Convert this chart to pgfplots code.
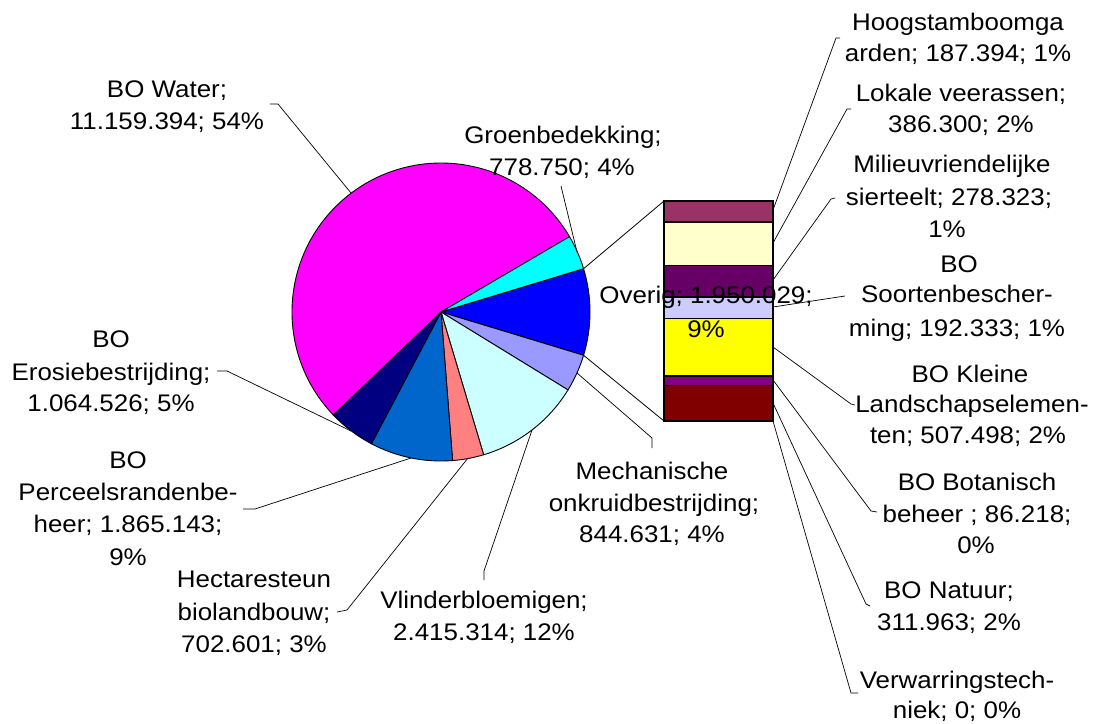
\documentclass[border=0pt]{standalone}
\usepackage{pgfplots}
\pgfplotsset{compat=1.18}
\usepackage{pgfplotstable}
\usepackage{fontspec}
\setmainfont{Liberation Sans}[FakeStretch=1.08]
\newcommand\lf{\fontsize{24bp}{31.5bp}\selectfont}

\definecolor{cWater}{HTML}{FF00FF}
\definecolor{cGroen}{HTML}{00FFFF}
\definecolor{cOverig}{HTML}{0000FF}
\definecolor{cMech}{HTML}{9999FF}
\definecolor{cVlin}{HTML}{CCFFFF}
\definecolor{cHect}{HTML}{FF8080}
\definecolor{cPerc}{HTML}{0066CC}
\definecolor{cEros}{HTML}{000080}
\definecolor{cHoog}{HTML}{993366}
\definecolor{cLok}{HTML}{FFFFCC}
\definecolor{cMil}{HTML}{660066}
\definecolor{cSoort}{HTML}{CCCCFF}
\definecolor{cKlein}{HTML}{FFFF00}
\definecolor{cBot}{HTML}{800080}
\definecolor{cNat}{HTML}{800000}
\definecolor{cVer}{HTML}{000000}

% pie slices, clockwise starting with "Overig" (which faces the bar)
\pgfplotstableread{
label value col
Overig 1950029 cOverig
Mechanische 844631 cMech
Vlinderbloemigen 2415314 cVlin
Hectaresteun 702601 cHect
Perceelsrandenbeheer 1865143 cPerc
Erosiebestrijding 1064526 cEros
Water 11159394 cWater
Groenbedekking 778750 cGroen
}\piedata

\newcommand\computepie{%
  \gdef\pietotal{0}%
  \pgfplotsforeachungrouped \i in {0,...,7}{%
    \pgfplotstablegetelem{\i}{value}\of\piedata
    \xdef\pietotal{\fpeval{\pietotal+\pgfplotsretval}}}%
  \pgfplotstablegetelem{0}{value}\of\piedata
  \xdef\pieang{\fpeval{round(180*\pgfplotsretval/\pietotal,4)}}%
  \pgfplotsforeachungrouped \i in {0,...,7}{%
    \pgfplotstablegetelem{\i}{value}\of\piedata
    \expandafter\xdef\csname pieS\i\endcsname{\pieang}%
    \xdef\pieang{\fpeval{round(\pieang-360*\pgfplotsretval/\pietotal,4)}}%
    \expandafter\xdef\csname pieE\i\endcsname{\pieang}%
    \expandafter\xdef\csname pieX\i\endcsname{\fpeval{round(441+149*cosd(\csname pieS\i\endcsname),3)}}%
    \expandafter\xdef\csname pieY\i\endcsname{\fpeval{round(312-149*sind(\csname pieS\i\endcsname),3)}}%
    \pgfplotstablegetelem{\i}{col}\of\piedata
    \expandafter\xdef\csname pieC\i\endcsname{\pgfplotsretval}%
  }%
}

\begin{document}
\computepie
\begin{tikzpicture}
% ---- bar of the "Overig" slice ----
\begin{axis}[at={(664bp,303bp)}, anchor=south west,
  width=109bp, height=220bp, scale only axis, hide axis,
  xmin=-0.5, xmax=0.5, ymin=0, ymax=1950029,
  ybar stacked, bar width=109bp, clip=false]
\addplot[fill=cVer, draw=black, line width=1.3bp] coordinates {(0,0)};       % Verwarringstechniek
\addplot[fill=cNat, draw=black, line width=1.3bp] coordinates {(0,311963)};  % BO Natuur
\addplot[fill=cBot, draw=black, line width=1.3bp] coordinates {(0,86218)};   % BO Botanisch beheer
\addplot[fill=cKlein, draw=black, line width=1.3bp] coordinates {(0,507498)};% BO Kleine Landschapselementen
\addplot[fill=cSoort, draw=black, line width=1.3bp] coordinates {(0,192333)};% BO Soortenbescherming
\addplot[fill=cMil, draw=black, line width=1.3bp] coordinates {(0,278323)};  % Milieuvriendelijke sierteelt
\addplot[fill=cLok, draw=black, line width=1.3bp] coordinates {(0,386300)};  % Lokale veerassen
\addplot[fill=cHoog, draw=black, line width=1.3bp] coordinates {(0,187394)}; % Hoogstamboomgaarden
\end{axis}
% ---- pie, labels and leader lines (pixel frame, y downwards) ----
\begin{axis}[at={(0,0)}, anchor=south west,
  width=1099bp, height=724bp, scale only axis, hide axis,
  xmin=0, xmax=1099, ymin=0, ymax=724, y dir=reverse, clip=false]
\path (axis cs:0,0) (axis cs:1099,724);
\pgfplotsforeachungrouped \i in {0,...,7}{%
  \edef\tmp{\noexpand\fill[fill=\csname pieC\i\endcsname, draw=black, line width=0.9bp]
    (axis cs:441,312) -- (axis cs:\csname pieX\i\endcsname,\csname pieY\i\endcsname)
    arc[start angle=\csname pieS\i\endcsname, end angle=\csname pieE\i\endcsname, radius=149bp] -- cycle;}%
  \tmp
}
% connectors pie -> bar
\draw[line width=0.8bp] (axis cs:583.6,268.7) -- (axis cs:664,201);
\draw[line width=0.8bp] (axis cs:583.6,355.3) -- (axis cs:664,421);
% leader lines
\begin{scope}[line width=0.7bp]
\draw (axis cs:840,38) -- (axis cs:836,38) -- (axis cs:773,210);
\draw (axis cs:851,109) -- (axis cs:847,109) -- (axis cs:773,243);
\draw (axis cs:835,198) -- (axis cs:831,199) -- (axis cs:773,280);
\draw (axis cs:845,296) -- (axis cs:773,307);
\draw (axis cs:855,405) -- (axis cs:851,404) -- (axis cs:773,347);
\draw (axis cs:877,512) -- (axis cs:871,511) -- (axis cs:773,380);
\draw (axis cs:870,606) -- (axis cs:866,604) -- (axis cs:773,403);
\draw (axis cs:858,693) -- (axis cs:851,693) -- (axis cs:773,421);
\draw (axis cs:270,104) -- (axis cs:278,104) -- (axis cs:351,193);
\draw (axis cs:561,186) -- (axis cs:577,252);
\draw (axis cs:217,371) -- (axis cs:227,371) -- (axis cs:351,431);
\draw (axis cs:243,509) -- (axis cs:255,509) -- (axis cs:411,458);
\draw (axis cs:337,612) -- (axis cs:347,610) -- (axis cs:468,458);
\draw (axis cs:484,580) -- (axis cs:484,571) -- (axis cs:532,430);
\draw (axis cs:652,448) -- (axis cs:652,438) -- (axis cs:577,373);
\end{scope}
% labels
\begin{scope}[every node/.style={font=\lf, anchor=base, inner sep=0pt}]
\node at (axis cs:958,31) {Hoogstamboomga};
\node at (axis cs:958,62) {arden; 187.394; 1\%};
\node at (axis cs:961,102) {Lokale veerassen;};
\node at (axis cs:961,133) {386.300; 2\%};
\node at (axis cs:952,173) {Milieuvriendelijke};
\node at (axis cs:949,206) {sierteelt; 278.323;};
\node at (axis cs:947,237) {1\%};
\node at (axis cs:959,272) {BO};
\node at (axis cs:957,302) {Soortenbescher-};
\node at (axis cs:957,336) {ming; 192.333; 1\%};
\node at (axis cs:970,382) {BO Kleine};
\node at (axis cs:972,412) {Landschapselemen-};
\node at (axis cs:968,443) {ten; 507.498; 2\%};
\node at (axis cs:977,490) {BO Botanisch};
\node at (axis cs:977,522) {beheer ; 86.218;};
\node at (axis cs:976,553) {0\%};
\node at (axis cs:949,598) {BO Natuur;};
\node at (axis cs:949,630) {311.963; 2\%};
\node at (axis cs:957,688) {Verwarringstech-};
\node at (axis cs:957,718) {niek; 0; 0\%};
\node at (axis cs:167,98) {BO Water;};
\node at (axis cs:167,130) {11.159.394; 54\%};
\node at (axis cs:563,144) {Groenbedekking;};
\node at (axis cs:562,176) {778.750; 4\%};
\node at (axis cs:706,303) {Overig; 1.950.029;};
\node at (axis cs:706,337) {9\%};
\node at (axis cs:111,347) {BO};
\node at (axis cs:111,380) {Erosiebestrijding;};
\node at (axis cs:111,411) {1.064.526; 5\%};
\node at (axis cs:128,468) {BO};
\node at (axis cs:128,500) {Perceelsrandenbe-};
\node at (axis cs:128,532) {heer; 1.865.143;};
\node at (axis cs:128,565) {9\%};
\node at (axis cs:254,587) {Hectaresteun};
\node at (axis cs:254,620) {biolandbouw;};
\node at (axis cs:254,652) {702.601; 3\%};
\node at (axis cs:484,608) {Vlinderbloemigen;};
\node at (axis cs:484,640) {2.415.314; 12\%};
\node at (axis cs:652,479) {Mechanische};
\node at (axis cs:654,511) {onkruidbestrijding;};
\node at (axis cs:652,542) {844.631; 4\%};
\end{scope}
\end{axis}
\end{tikzpicture}
\end{document}
